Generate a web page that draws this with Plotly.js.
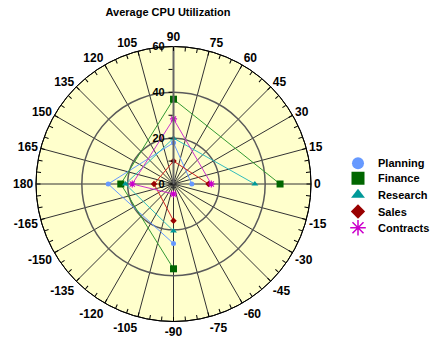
<!DOCTYPE html>
<html><head><meta charset="utf-8">
<script src="https://cdn.plot.ly/plotly-3.0.1.min.js"></script>
<style>html,body{margin:0;padding:0;background:#fff}#chart{width:433px;height:339px}</style>
</head><body><div id="chart"></div>
<script>
const seriesNames = ["Planning", "Finance", "Research", "Sales", "Contracts"];
const angles = [0, 90, 180, -90];
const planning = [8, 18, 28.5, 26];
const finance = [46.5, 37, 23, 37];
const research = [35.5, 20, 21, 20.5];
const sales = [15.3, 10, 8.5, 16];
const contracts = [16.5, 28.4, 18, 4.4];
const radialTicks = [0, 10, 20, 30, 40, 50, 60];
const radialLabels = ["0", "", "20", "", "40", "", "60"];

const colors = ["#6699FF", "#006600", "#009999", "#990000", "#CC00CC"];
const lineColors = ["#6699FF", "#339933", "#33BBBB", "#CC2222", "#CC33CC"];
const symbols = ["circle", "square", "triangle-up", "diamond", "asterisk-open"];
const sizes = [5, 7, 6, 5, 6];
const legendSizes = [12, 13, 12, 11, 13];
const values = [planning, finance, research, sales, contracts];
const legendRowY = [162.7, 177.7, 194.3, 211, 227.3];

const angTickVals = [], angTickText = [];
for (let a = 0; a < 360; a += 5) {
  angTickVals.push(a);
  angTickText.push(a % 15 === 0 ? String(a <= 180 ? a : a - 360) : "");
}
const spokeVals = angTickVals.filter(a => a % 15 === 0);

const traces = [];
values.forEach((v, i) => {
  traces.push({
    type: "scatterpolar", subplot: "polar", r: v, theta: angles, mode: "lines+markers",
    name: seriesNames[i], showlegend: false, cliponaxis: false,
    line: {color: lineColors[i], width: 1},
    marker: {color: colors[i], symbol: symbols[i], size: sizes[i],
             line: {color: colors[i], width: symbols[i] === "asterisk-open" ? 1.2 : 0}}
  });
});
const legendFont = {family: "Arial, 'Liberation Sans', sans-serif", size: 11, color: "#000", weight: "bold"};
const legends = {};
values.forEach((v, i) => {
  const key = i === 0 ? "legend" : "legend" + (i + 1);
  traces.push({
    type: "scatterpolar", subplot: "polar", r: [null], theta: [null], mode: "markers",
    name: seriesNames[i], showlegend: true, legend: key,
    marker: {color: colors[i], symbol: symbols[i], size: legendSizes[i],
             line: {color: colors[i], width: symbols[i] === "asterisk-open" ? 1.5 : 0}}
  });
  legends[key] = {x: 338/433, y: 1 - (legendRowY[i] - 14)/339, xanchor: "left", yanchor: "top",
                  font: legendFont, itemwidth: 30, bgcolor: "rgba(0,0,0,0)"};
});

const font = {family: "Arial, 'Liberation Sans', sans-serif", size: 11, color: "#000", weight: "bold"};
const angFont = {family: font.family, size: 12, color: "#000", weight: "bold"};
const cx = 173.5, cy = 184, R = 137.5;
const dom = {x: [(cx - R)/433, (cx + R)/433], y: [(339 - cy - R)/339, (339 - cy + R)/339]};

const layout = Object.assign({
  width: 433, height: 339,
  margin: {l: 0, r: 0, t: 0, b: 0, autoexpand: false},
  paper_bgcolor: "#ffffff",
  font: font,
  title: {text: "Average CPU Utilization", x: 168/433, xanchor: "center", y: 1 - 12/339, yanchor: "middle",
          font: {family: font.family, size: 11, color: "#000", weight: "bold"}},
  showlegend: true,
  polar: {
    domain: dom, bgcolor: "#FFFFCC",
    angularaxis: {tickvals: spokeVals, showticklabels: false, ticks: "", showgrid: true,
                  gridcolor: "#333333", gridwidth: 1, showline: true, linecolor: "#000", linewidth: 1,
                  direction: "counterclockwise", rotation: 0},
    radialaxis: {range: [0, 60], tickvals: [20, 40], showgrid: true, gridcolor: "#5a5a5a", gridwidth: 1.5,
                 showticklabels: false, ticks: "", showline: false, angle: 90}
  },
  polar2: {
    domain: dom, bgcolor: "rgba(0,0,0,0)",
    angularaxis: {tickvals: angTickVals, ticktext: angTickText, ticks: "inside", ticklen: 4, tickcolor: "#000",
                  showgrid: false, showline: true, linecolor: "#000", linewidth: 1,
                  direction: "counterclockwise", rotation: 0, tickfont: angFont},
    radialaxis: {range: [0, 60], tickvals: radialTicks, ticktext: radialLabels, showgrid: false,
                 ticks: "outside", ticklen: 4, tickcolor: "#000", showline: true, linecolor: "#666", linewidth: 2,
                 angle: 90, side: "counterclockwise", tickangle: 90, tickfont: font}
  }
}, legends);
traces.push({type: "scatterpolar", subplot: "polar2", r: [null], theta: [null], mode: "markers", showlegend: false, hoverinfo: "skip"});
Plotly.newPlot("chart", traces, layout, {staticPlot: true});
</script></body></html>
